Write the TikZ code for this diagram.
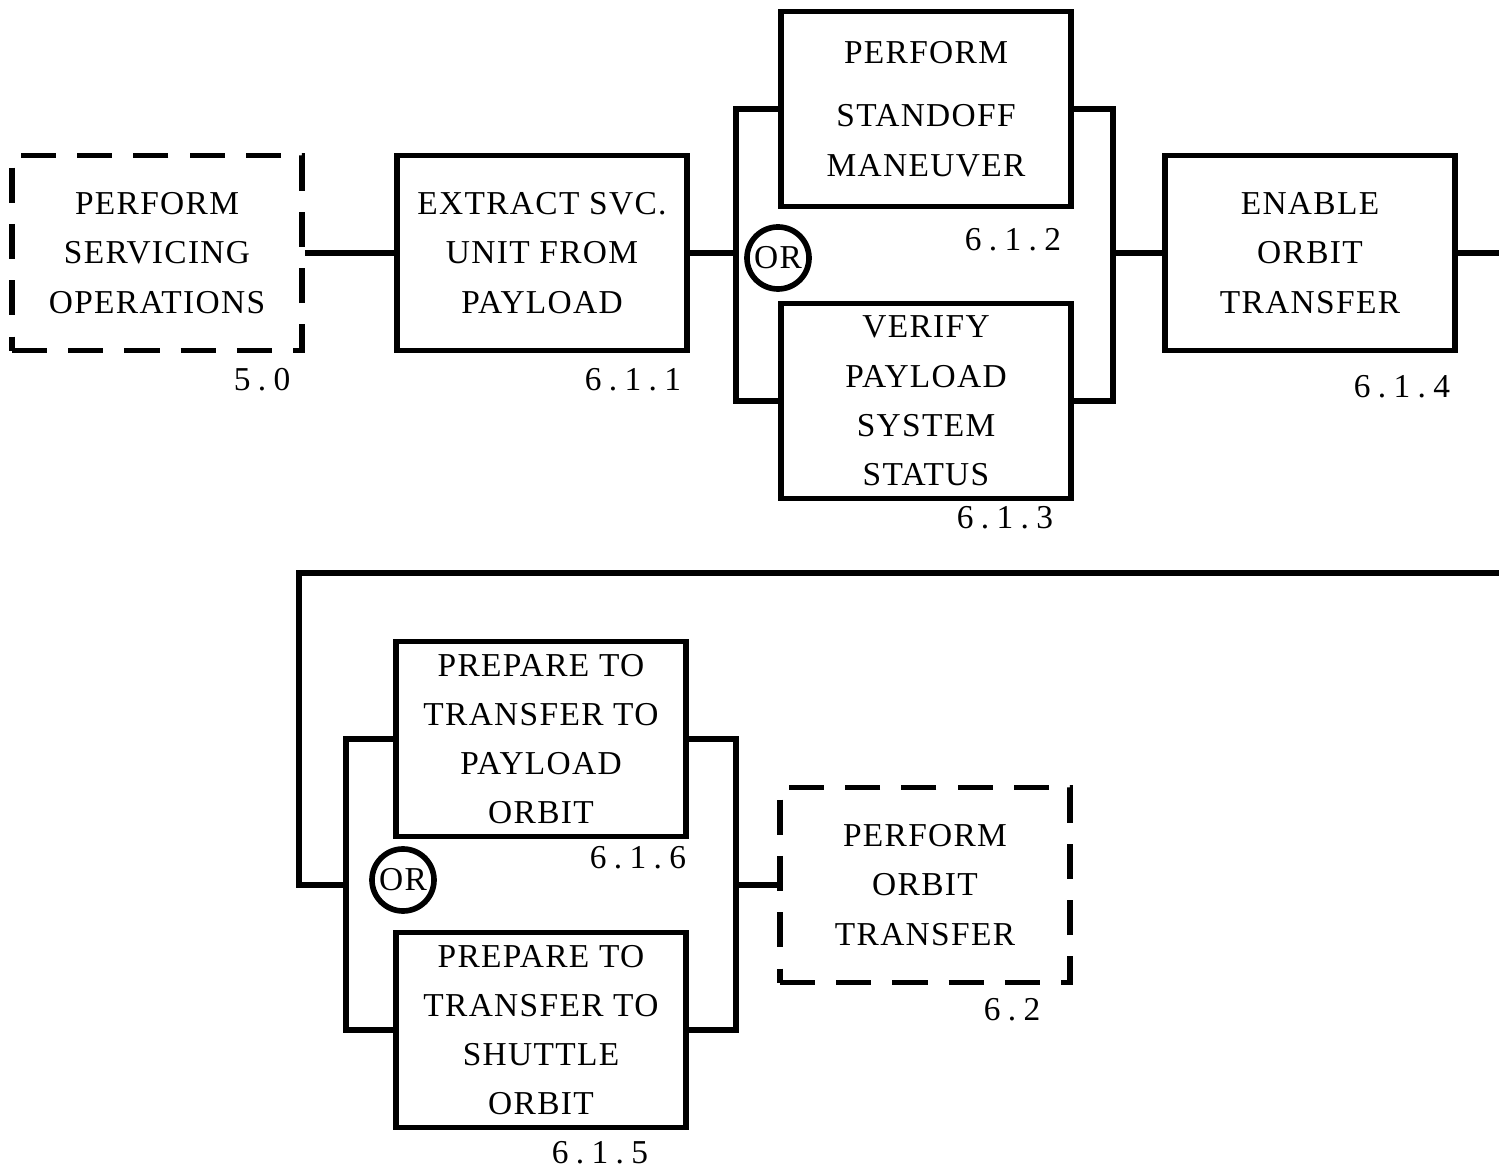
\documentclass[tikz,border=0pt]{standalone}
\usepackage{fontspec}
\setmainfont{Liberation Serif}[LetterSpace=4]
\usepackage{tikz}

\begin{document}
\begin{tikzpicture}[
    x=0.01cm, y=-0.01cm,
    font=\fontsize{9.5}{14}\selectfont,
    line width=1.5pt,
    caja/.style={
        draw,
        line width=1.6pt,
        minimum width=2.9cm,
        minimum height=1.95cm,
        inner sep=0pt,
        align=center
    },
    cajaext/.style={caja, dash pattern=on 10pt off 6pt},
    numero/.style={inner sep=1pt, font=\fontsize{9.5}{14}\selectfont\addfontfeature{LetterSpace=22}},
    opcion/.style={
        draw,
        circle,
        line width=1.6pt,
        minimum size=0.62cm,
        inner sep=0pt,
        fill=white
    }
]
    \useasboundingbox (0,0) rectangle (1499,1167);

    % fila superior
    \node[cajaext] (b50) at (157,253)
        {PERFORM\\SERVICING\\OPERATIONS};
    \node[caja] (b611) at (542,253)
        {EXTRACT SVC.\\UNIT FROM\\PAYLOAD};
    \node[caja] (b612) at (926,109)
        {PERFORM\\[4pt]STANDOFF\\MANEUVER};
    \node[caja] (b613) at (926,401)
        {VERIFY\\PAYLOAD\\SYSTEM\\STATUS};
    \node[caja] (b614) at (1310,253)
        {ENABLE\\ORBIT\\TRANSFER};

    \node[numero] (n50) at (262,380) {5.0};
    \node[numero] (n611) at (633,380) {6.1.1};
    \node[numero] (n612) at (1013,240) {6.1.2};
    \node[numero] (n613) at (1005,518) {6.1.3};
    \node[numero] (n614) at (1402,387) {6.1.4};

    \node[opcion] (o1) at (778,258) {OR};

    \coordinate (izq) at (736,253);
    \coordinate (der) at (1113,253);
    \coordinate (fin) at (1499,253);

    \draw (b50.east) -- (b611.west);
    \draw (b611.east) -- (izq);
    \draw (b612.west) -| (izq) |- (b613.west);
    \draw (b612.east) -| (der) |- (b613.east);
    \draw (der) -- (b614.west);
    \draw (b614.east) -- (fin);

    % fila inferior
    \node[caja] (b616) at (541,739)
        {PREPARE TO\\TRANSFER TO\\PAYLOAD\\ORBIT};
    \node[caja] (b615) at (541,1030)
        {PREPARE TO\\TRANSFER TO\\SHUTTLE\\ORBIT};
    \node[cajaext] (b62) at (925,885)
        {PERFORM\\ORBIT\\TRANSFER};

    \node[numero] (n616) at (638,858) {6.1.6};
    \node[numero] (n615) at (600,1153) {6.1.5};
    \node[numero] (n62) at (1012,1010) {6.2};

    \node[opcion] (o2) at (403,880) {OR};

    \coordinate (ini) at (1499,573);
    \coordinate (esq) at (299,573);
    \coordinate (izq2) at (346,885);
    \coordinate (der2) at (736,885);

    \draw (ini) -- (esq) |- (izq2);
    \draw (b616.west) -| (izq2) |- (b615.west);
    \draw (b616.east) -| (der2) |- (b615.east);
    \draw (der2) -- (b62.west);
\end{tikzpicture}
\end{document}
